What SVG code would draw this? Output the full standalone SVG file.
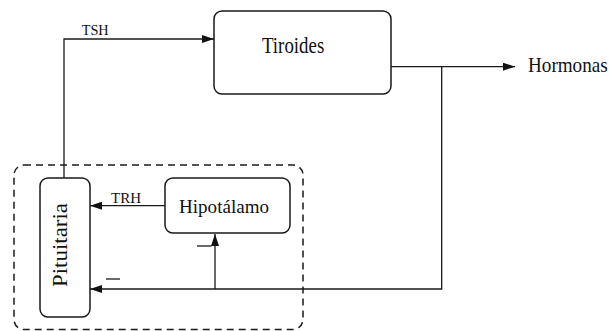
<svg xmlns="http://www.w3.org/2000/svg" width="615" height="331" viewBox="0 0 615 331">
  <style>
    .box { fill: #ffffff; stroke: #1a1a1a; stroke-width: 1.5; }
    .group { fill: none; stroke: #1a1a1a; stroke-width: 1.5; stroke-dasharray: 7 5; }
    .wire { fill: none; stroke: #1a1a1a; stroke-width: 1.3; }
    text { fill: #111111; font-family: Liberation Serif, Times New Roman, serif; }
  </style>
  <defs>
    <marker id="arrow" viewBox="0 0 12 8" refX="12" refY="4" markerWidth="12" markerHeight="8" markerUnits="userSpaceOnUse" orient="auto">
      <path d="M0,0 L12,4 L0,8 Z" fill="#111111"/>
    </marker>
  </defs>
  <rect width="615" height="331" fill="#ffffff"/>

  <!-- dashed enclosure around pituitary and hypothalamus -->
  <rect id="brain-group" class="group" x="14" y="165" width="289" height="164.5" rx="10" ry="10"/>

  <!-- connectors -->
  <g id="connectors">
    <!-- TSH: pituitary to thyroid -->
    <polyline class="wire" points="64,178 64,39 214,39" marker-end="url(#arrow)"/>
    <!-- thyroid output -->
    <line class="wire" x1="391" y1="66.7" x2="515" y2="66.7" marker-end="url(#arrow)"/>
    <!-- negative feedback to pituitary -->
    <polyline class="wire" points="441.7,66.7 441.7,289 90,289" marker-end="url(#arrow)"/>
    <!-- negative feedback to hypothalamus -->
    <line class="wire" x1="215" y1="289" x2="215" y2="234" marker-end="url(#arrow)"/>
    <!-- TRH: hypothalamus to pituitary -->
    <line class="wire" x1="165" y1="205.7" x2="90" y2="205.7" marker-end="url(#arrow)"/>
    <text x="81.7" y="35" font-size="15" textLength="27" lengthAdjust="spacingAndGlyphs">TSH</text>
    <text x="111" y="203.3" font-size="15" textLength="30" lengthAdjust="spacingAndGlyphs">TRH</text>
    <line class="wire" x1="197" y1="246" x2="211.5" y2="246"/>
    <line class="wire" x1="106" y1="279" x2="120" y2="279"/>
  </g>

  <g id="tiroides">
    <rect class="box" x="214" y="11" width="177" height="83" rx="8" ry="8"/>
    <text transform="translate(262,53) scale(0.84,1)" font-size="22.5">Tiroides</text>
  </g>

  <g id="hormonas">
    <text transform="translate(528,72) scale(0.89,1)" font-size="21.5">Hormonas</text>
  </g>

  <g id="pituitaria">
    <rect class="box" x="40" y="178" width="50" height="139" rx="8" ry="8"/>
    <text transform="translate(66.5,287) rotate(-90)" font-size="21" textLength="84" lengthAdjust="spacingAndGlyphs">Pituitaria</text>
  </g>

  <g id="hipotalamo">
    <rect class="box" x="165" y="178" width="125" height="55" rx="8" ry="8"/>
    <text x="179" y="212.7" font-size="19" textLength="90" lengthAdjust="spacingAndGlyphs">Hipotálamo</text>
  </g>
</svg>
